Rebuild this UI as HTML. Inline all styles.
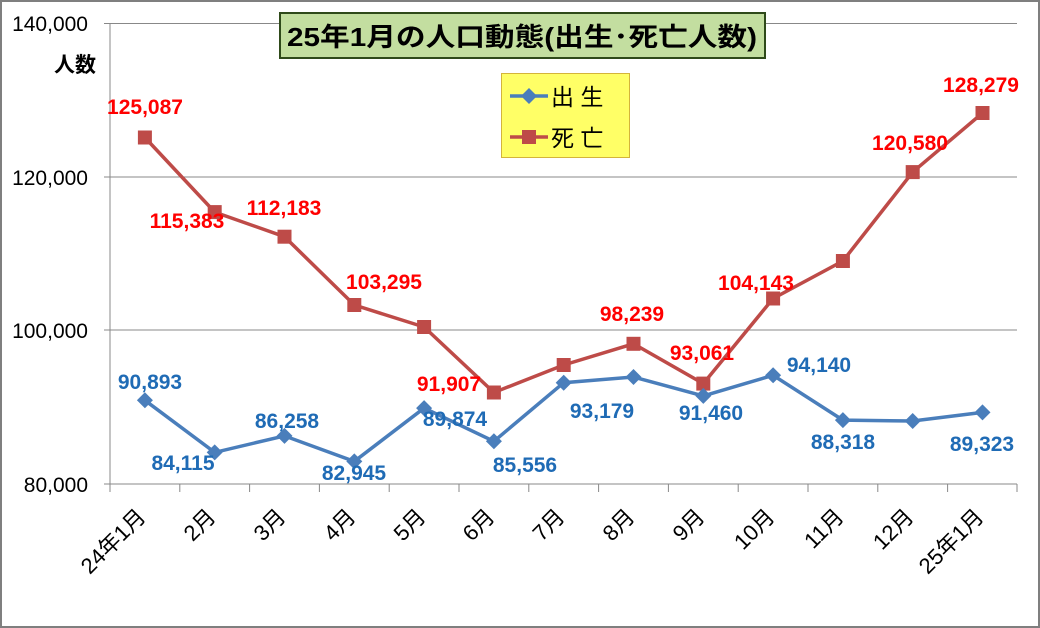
<!DOCTYPE html>
<html><head><meta charset="utf-8"><style>
html,body{margin:0;padding:0;background:#fff}
svg{display:block}
text{font-family:"Liberation Sans","Noto Sans CJK JP",sans-serif}
</style></head><body>
<svg width="1040" height="628" viewBox="0 0 1040 628" xmlns="http://www.w3.org/2000/svg">
<rect x="1" y="1" width="1038" height="626" fill="#fff" stroke="#7f7f7f" stroke-width="2"/>
<g stroke="#888" stroke-width="1">
<line x1="104" y1="23.5" x2="1017" y2="23.5"/>
<line x1="104" y1="177" x2="1017" y2="177"/>
<line x1="104" y1="330" x2="1017" y2="330"/>
<line x1="104" y1="484" x2="1017" y2="484"/>
<line x1="110" y1="23" x2="110" y2="484"/>
</g>
<g stroke="#888" stroke-width="1">
<line x1="110" y1="484" x2="110" y2="492"/><line x1="179.8" y1="484" x2="179.8" y2="492"/><line x1="249.6" y1="484" x2="249.6" y2="492"/><line x1="319.4" y1="484" x2="319.4" y2="492"/><line x1="389.2" y1="484" x2="389.2" y2="492"/><line x1="459" y1="484" x2="459" y2="492"/><line x1="528.8" y1="484" x2="528.8" y2="492"/><line x1="598.6" y1="484" x2="598.6" y2="492"/><line x1="668.4" y1="484" x2="668.4" y2="492"/><line x1="738.2" y1="484" x2="738.2" y2="492"/><line x1="808" y1="484" x2="808" y2="492"/><line x1="877.8" y1="484" x2="877.8" y2="492"/><line x1="947.6" y1="484" x2="947.6" y2="492"/><line x1="1017" y1="484" x2="1017" y2="492"/>
</g>
<g font-size="21" fill="#000" text-anchor="end">
<text x="88" y="31">140,000</text>
<text x="88" y="185">120,000</text>
<text x="88" y="338">100,000</text>
<text x="88" y="492">80,000</text>
</g>
<text x="96" y="72" font-size="21" font-weight="bold" text-anchor="end">人数</text>
<g font-size="22" fill="#000" text-anchor="end">
<text transform="translate(147,518) rotate(-45)">24年1月</text>
<text transform="translate(217,518) rotate(-45)">2月</text>
<text transform="translate(287,518) rotate(-45)">3月</text>
<text transform="translate(357,518) rotate(-45)">4月</text>
<text transform="translate(427,518) rotate(-45)">5月</text>
<text transform="translate(496,518) rotate(-45)">6月</text>
<text transform="translate(566,518) rotate(-45)">7月</text>
<text transform="translate(636,518) rotate(-45)">8月</text>
<text transform="translate(706,518) rotate(-45)">9月</text>
<text transform="translate(776,518) rotate(-45)">10月</text>
<text transform="translate(845,518) rotate(-45)">11月</text>
<text transform="translate(915,518) rotate(-45)">12月</text>
<text transform="translate(985,518) rotate(-45)">25年1月</text>
</g>
<polyline fill="none" stroke="#be4b48" stroke-width="3.5" points="144.9,137.5 214.7,212.1 284.5,236.7 354.3,305 424.1,327 493.9,392.5 563.7,365 633.5,343.8 703.3,383.6 773.1,298.5 842.9,261 912.7,172.1 982.5,113"/>
<g fill="#be4b48">
<rect x="137.9" y="130.5" width="14" height="14"/><rect x="207.7" y="205.1" width="14" height="14"/><rect x="277.5" y="229.7" width="14" height="14"/><rect x="347.3" y="298" width="14" height="14"/><rect x="417.1" y="320" width="14" height="14"/><rect x="486.9" y="385.5" width="14" height="14"/><rect x="556.7" y="358" width="14" height="14"/><rect x="626.5" y="336.8" width="14" height="14"/><rect x="696.3" y="376.6" width="14" height="14"/><rect x="766.1" y="291.5" width="14" height="14"/><rect x="835.9" y="254" width="14" height="14"/><rect x="905.7" y="165.1" width="14" height="14"/><rect x="975.5" y="106" width="14" height="14"/>
</g>
<polyline fill="none" stroke="#4a7ebb" stroke-width="3.5" points="144.9,400.3 214.7,452.4 284.5,435.9 354.3,461.4 424.1,408.1 493.9,441.3 563.7,382.7 633.5,377 703.3,395.9 773.1,375.3 842.9,420.1 912.7,421 982.5,412.4"/>
<g fill="#4a7ebb">
<path d="M144.9,392.3l8,8l-8,8l-8,-8z"/><path d="M214.7,444.4l8,8l-8,8l-8,-8z"/><path d="M284.5,427.9l8,8l-8,8l-8,-8z"/><path d="M354.3,453.4l8,8l-8,8l-8,-8z"/><path d="M424.1,400.1l8,8l-8,8l-8,-8z"/><path d="M493.9,433.3l8,8l-8,8l-8,-8z"/><path d="M563.7,374.7l8,8l-8,8l-8,-8z"/><path d="M633.5,369l8,8l-8,8l-8,-8z"/><path d="M703.3,387.9l8,8l-8,8l-8,-8z"/><path d="M773.1,367.3l8,8l-8,8l-8,-8z"/><path d="M842.9,412.1l8,8l-8,8l-8,-8z"/><path d="M912.7,413l8,8l-8,8l-8,-8z"/><path d="M982.5,404.4l8,8l-8,8l-8,-8z"/>
</g>
<g font-size="21" font-weight="bold" fill="#ff0000" text-anchor="middle">
<text x="145" y="114">125,087</text><text x="187" y="228">115,383</text><text x="284" y="215">112,183</text><text x="384" y="289">103,295</text><text x="449" y="391">91,907</text><text x="632" y="321">98,239</text><text x="702" y="360">93,061</text><text x="756" y="290">104,143</text><text x="910" y="150">120,580</text><text x="981" y="92">128,279</text>
</g>
<g font-size="21" font-weight="bold" fill="#1f6bb5" text-anchor="middle">
<text x="150" y="389">90,893</text><text x="183" y="470">84,115</text><text x="287" y="428">86,258</text><text x="354" y="480">82,945</text><text x="455" y="426">89,874</text><text x="525" y="472">85,556</text><text x="602" y="418">93,179</text><text x="711" y="420">91,460</text><text x="819" y="372">94,140</text><text x="843" y="449">88,318</text><text x="982" y="451">89,323</text>
</g>
<rect x="280" y="13" width="485" height="45" fill="#c3dea0" stroke="#2f4a1a" stroke-width="2"/>
<text x="522" y="46" font-size="26" font-weight="bold" text-anchor="middle" fill="#000" textLength="470" lengthAdjust="spacingAndGlyphs">25年1月の人口動態(出生･死亡人数)</text>
<rect x="501.5" y="73.5" width="128" height="84" fill="#ffff66" stroke="#d4b43a" stroke-width="1"/>
<line x1="510" y1="96" x2="548" y2="96" stroke="#4a7ebb" stroke-width="3.5"/>
<path d="M529,88l8,8l-8,8l-8,-8z" fill="#4a7ebb"/>
<line x1="510" y1="137" x2="548" y2="137" stroke="#be4b48" stroke-width="3.5"/>
<rect x="522" y="130" width="14" height="14" fill="#be4b48"/>
<text x="551" y="105" font-size="23" fill="#000">出 生</text>
<text x="551" y="146" font-size="23" fill="#000">死 亡</text>
</svg>
</body></html>
